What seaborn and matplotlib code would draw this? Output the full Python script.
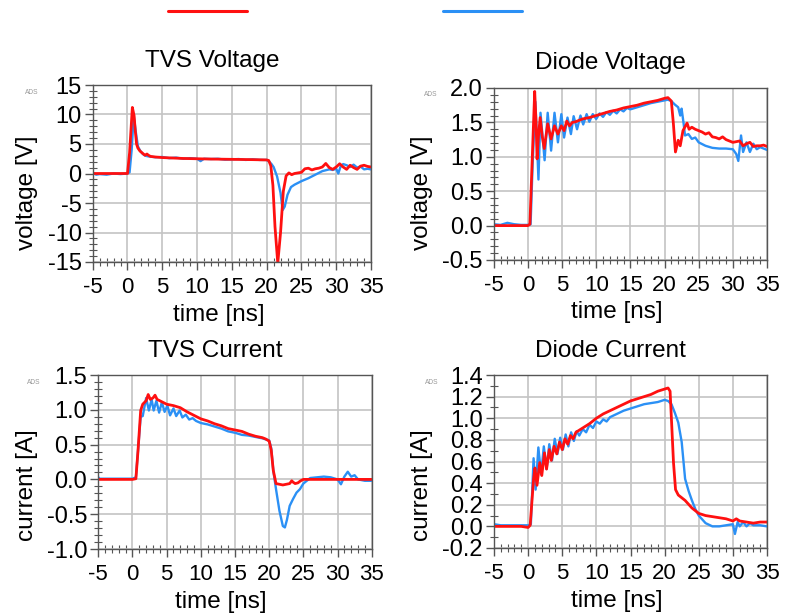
import matplotlib
matplotlib.use("Agg")
import matplotlib.pyplot as plt
from matplotlib.ticker import MultipleLocator, FormatStrFormatter
import pandas as pd
import seaborn as sns

### DATA (time [ns], value) ############################################################################################
# TVS voltage [V]
tvs_voltage_red = [
    (-5, 0), (-3, 0), (-1, 0), (0, 0), (0.3, 3.5), (0.7, 11.2), (0.95, 9.8), (1.1, 7.5), (1.3, 5.0), (1.5, 4.3),
    (1.8, 3.8), (2.2, 3.4), (2.5, 3.1), (2.8, 3.3), (3.0, 3.1), (3.3, 2.9), (4, 2.8), (5, 2.7), (8, 2.55),
    (10, 2.5), (12, 2.45), (15, 2.4), (18, 2.35), (20, 2.3), (20.3, 2.2), (20.6, 1.3), (20.9, -2.0), (21.2, -9.0),
    (21.6, -15.2), (22.0, -10.0), (22.4, -3.0), (22.8, -0.4), (23.2, 0.1), (23.6, -0.2), (24, 0), (24.5, 0.1),
    (25, 0.2), (25.5, 0.8), (26, 0.9), (26.5, 0.6), (27, 0.8), (27.5, 0.9), (28, 1.1), (28.5, 1.7), (29, 1.0),
    (29.5, 0.7), (30, 1.1), (30.5, 1.65), (31, 1.1), (31.5, 0.7), (32, 1.4), (32.5, 1.0), (33, 0.7), (33.5, 1.25),
    (34, 1.4), (34.5, 1.2), (35, 1.1),
]
tvs_voltage_blue = [
    (-5, 0.1), (-4.5, -0.2), (-4, -0.1), (-3, -0.2), (-2, 0), (-1, -0.1), (0, 0), (0.3, 0.2), (0.6, 4.0),
    (0.9, 9.8), (1.2, 7.0), (1.5, 4.6), (1.8, 3.9), (2.2, 3.3), (2.6, 3.0), (3, 2.9), (4, 2.75), (5, 2.8),
    (6, 2.6), (7, 2.7), (8, 2.5), (9, 2.6), (10, 2.5), (10.5, 2.1), (11, 2.5), (12, 2.45), (13, 2.5), (14, 2.35),
    (15, 2.4), (16, 2.45), (17, 2.3), (18, 2.4), (19, 2.3), (20, 2.3), (20.3, 2.1), (20.7, 1.6), (21, 1.1),
    (21.5, -0.5), (22, -3.3), (22.3, -6.2), (22.6, -5.6), (23, -3.6), (23.5, -2.3), (24, -1.9), (24.5, -1.6),
    (25, -1.3), (26, -0.8), (27, -0.2), (28, 0.4), (29, 0.7), (29.5, 0.6), (30, 0.8), (30.3, 0.0), (30.6, 1.1),
    (31, 1.6), (31.5, 1.4), (32, 1.1), (32.5, 1.5), (33, 1.0), (33.5, 1.2), (34, 0.7), (34.5, 0.8), (35, 0.7),
]

# Diode voltage [V]
diode_voltage_red = [
    (-5, 0), (-2, 0), (0, 0), (0.3, 0.02), (0.65, 1.0), (1.0, 1.95), (1.2, 1.5), (1.35, 0.97), (1.55, 1.3),
    (1.8, 1.57), (2.1, 1.3), (2.4, 1.12), (2.9, 1.48), (3.4, 1.26), (3.9, 1.45), (4.4, 1.33), (4.9, 1.45),
    (5.3, 1.38), (5.7, 1.52), (6.1, 1.45), (6.5, 1.5), (7, 1.51), (7.5, 1.53), (8, 1.55), (9, 1.57), (10, 1.6),
    (11, 1.63), (12, 1.66), (13, 1.68), (14, 1.71), (15, 1.73), (16, 1.75), (17, 1.78), (18, 1.8), (19, 1.82),
    (20, 1.85), (20.5, 1.86), (21, 1.81), (21.3, 1.48), (21.6, 1.07), (22, 1.24), (22.3, 1.16), (22.7, 1.38),
    (23.3, 1.49), (23.6, 1.40), (24, 1.43), (24.5, 1.40), (25, 1.38), (25.5, 1.36), (26, 1.33), (26.5, 1.35),
    (27, 1.29), (27.5, 1.28), (28, 1.26), (28.5, 1.29), (29, 1.25), (29.5, 1.23), (30, 1.21), (30.5, 1.22),
    (31, 1.23), (31.5, 1.16), (32, 1.19), (32.5, 1.21), (33, 1.15), (33.5, 1.16), (34, 1.16), (34.5, 1.17),
    (35, 1.15),
]
diode_voltage_blue = [
    (-5, 0.02), (-4, 0.01), (-3, 0.04), (-2, 0.02), (-1, 0.01), (0, 0.01), (0.4, 0.02), (0.7, 0.9), (1.1, 1.8),
    (1.55, 0.67), (1.85, 1.64), (2.45, 0.95), (2.9, 1.64), (3.4, 1.09), (3.9, 1.64), (4.4, 1.21), (4.9, 1.62),
    (5.3, 1.28), (5.8, 1.57), (6.3, 1.33), (6.7, 1.59), (7.2, 1.40), (7.7, 1.6), (8.1, 1.47), (8.6, 1.62),
    (9.0, 1.51), (9.5, 1.62), (10, 1.55), (10.5, 1.63), (11, 1.58), (11.5, 1.65), (12, 1.61), (12.5, 1.67),
    (13, 1.63), (13.5, 1.69), (14, 1.66), (14.5, 1.71), (15, 1.69), (16, 1.72), (17, 1.75), (18, 1.78),
    (19, 1.80), (20, 1.82), (20.5, 1.83), (21, 1.81), (21.5, 1.76), (22, 1.72), (22.3, 1.6), (22.5, 1.7),
    (22.8, 1.48), (23, 1.31), (23.5, 1.33), (24, 1.26), (24.5, 1.28), (25, 1.21), (26, 1.16), (27, 1.13),
    (28, 1.12), (29, 1.12), (30, 1.11), (30.5, 1.04), (30.8, 0.94), (31.2, 1.31), (31.5, 1.07), (32, 1.21),
    (32.5, 1.07), (33, 1.19), (33.5, 1.11), (34, 1.14), (35, 1.10),
]

# TVS current [A]
tvs_current_red = [
    (-5, 0), (0, 0), (0.5, 0.01), (0.8, 0.4), (1.2, 0.99), (1.5, 1.08), (2.0, 1.13), (2.3, 1.22), (2.6, 1.15),
    (3.0, 1.17), (3.3, 1.21), (3.6, 1.15), (4, 1.13), (5, 1.08), (6, 1.06), (7, 1.03), (8, 0.97), (9, 0.92),
    (10, 0.87), (11, 0.84), (12, 0.8), (13, 0.77), (14, 0.73), (15, 0.71), (16, 0.69), (17, 0.65), (18, 0.62),
    (19, 0.6), (19.5, 0.58), (20, 0.55), (20.3, 0.42), (20.6, 0.13), (21, -0.06), (22, -0.08), (23, -0.06),
    (23.3, -0.02), (23.5, -0.04), (23.8, -0.06), (24.2, -0.05), (24.6, -0.02), (25, 0), (30, 0), (35, 0),
]
tvs_current_blue = [
    (-5, 0.03), (-4.8, 0.01), (-3, 0.01), (-1, 0.01), (0, 0.01), (0.5, 0.03), (0.8, 0.4), (1.2, 0.9),
    (1.5, 0.91), (2.0, 1.17), (2.4, 0.99), (2.8, 1.15), (3.1, 0.99), (3.5, 1.13), (3.9, 0.96), (4.3, 1.11),
    (4.7, 0.97), (5.1, 1.06), (5.5, 0.92), (6.0, 1.02), (6.4, 0.91), (6.9, 0.99), (7.3, 0.89), (7.8, 0.93),
    (8.3, 0.86), (8.8, 0.88), (9.3, 0.84), (10, 0.81), (11, 0.79), (12, 0.76), (13, 0.73), (14, 0.69), (15, 0.67),
    (16, 0.64), (17, 0.63), (18, 0.61), (19, 0.59), (20, 0.56), (20.3, 0.45), (20.6, 0.13), (21, -0.14),
    (21.5, -0.45), (22, -0.67), (22.3, -0.69), (22.6, -0.58), (23, -0.38), (23.5, -0.28), (24, -0.19),
    (24.5, -0.14), (25, -0.06), (25.5, -0.02), (26, 0.02), (27, 0.03), (28, 0.04), (29, 0.03), (30, 0.0),
    (30.5, -0.07), (31, 0.04), (31.5, 0.11), (32, 0.04), (32.5, 0.06), (33, 0.0), (34, -0.02), (35, -0.02),
]

# Diode current [A]
diode_current_red = [
    (-5, 0), (-1, 0), (0, -0.01), (0.3, 0.01), (0.8, 0.44), (1.0, 0.54), (1.3, 0.38), (1.7, 0.59), (2.0, 0.47),
    (2.4, 0.68), (2.7, 0.53), (3.1, 0.71), (3.4, 0.61), (3.8, 0.74), (4.2, 0.67), (4.6, 0.78), (5.0, 0.71),
    (5.4, 0.81), (5.8, 0.76), (6.2, 0.84), (6.6, 0.81), (7, 0.87), (8, 0.91), (9, 0.95), (10, 1.0), (11, 1.04),
    (12, 1.07), (13, 1.1), (14, 1.13), (15, 1.16), (16, 1.18), (17, 1.2), (18, 1.22), (19, 1.25), (20, 1.27),
    (20.5, 1.28), (20.8, 1.25), (21, 0.99), (21.3, 0.59), (21.6, 0.34), (22, 0.29), (23, 0.24), (24, 0.17),
    (25, 0.12), (26, 0.10), (27, 0.09), (28, 0.08), (29, 0.07), (30, 0.05), (30.5, 0.07), (31, 0.05), (32, 0.04),
    (33, 0.03), (34, 0.04), (35, 0.04),
]
diode_current_blue = [
    (-5, 0.02), (-4, 0.01), (-3, 0.01), (-2, 0.01), (-1, 0.01), (0, 0.01), (0.4, 0.02), (0.8, 0.63), (1.1, 0.34),
    (1.5, 0.73), (1.9, 0.48), (2.3, 0.74), (2.7, 0.53), (3.1, 0.76), (3.5, 0.61), (3.9, 0.81), (4.3, 0.67),
    (4.7, 0.82), (5.1, 0.71), (5.5, 0.85), (5.9, 0.74), (6.3, 0.87), (6.7, 0.79), (7.1, 0.88), (7.5, 0.84),
    (8, 0.9), (8.5, 0.87), (9, 0.94), (9.5, 0.91), (10, 0.97), (10.5, 0.95), (11, 0.99), (11.5, 0.97), (12, 1.01),
    (13, 1.04), (14, 1.07), (15, 1.09), (16, 1.11), (17, 1.13), (18, 1.14), (19, 1.15), (20, 1.17), (20.5, 1.16),
    (21, 1.13), (21.5, 1.05), (22, 0.96), (22.5, 0.78), (23, 0.44), (23.5, 0.33), (24, 0.24), (24.5, 0.16),
    (25, 0.10), (26, 0.03), (27, 0.0), (28, 0.0), (29, 0.01), (30, 0.02), (30.3, -0.07), (30.7, 0.04), (31, 0.0),
    (31.5, 0.04), (32, 0.0), (32.5, 0.03), (33, 0.01), (34, 0.01), (35, 0.0),
]

x_ticks = [-5, 0, 5, 10, 15, 20, 25, 30, 35]

### STYLE ##############################################################################################################
RED = "#ff1010"
BLUE = "#2b90f5"
FS_TEXT = 17.5   # titles and axis labels
FS_YTICK = 17
FS_XTICK = 16

sns.set_theme(style="white")
plt.rcParams["font.family"] = ["Liberation Sans", "DejaVu Sans"]
plt.rcParams["axes.unicode_minus"] = False
plt.rcParams["text.color"] = "black"

W, H = 786, 613
fig = plt.figure(figsize=(W / 100, H / 100), dpi=100)

# (axes box in px: left, top, right, bottom), title xy, ylabel xy, xlabel xy, ADS xy
panels = [
    dict(red=tvs_voltage_red, blue=tvs_voltage_blue, title="TVS Voltage", ylabel="voltage [V]",
         box=(92.7, 85, 371, 262), title_xy=(212, 61), ylabel_xy=(27, 193), xlabel_xy=(219, 315), ads_xy=(32, 93),
         ylim=(-15, 15), major=5, minor=1, fmt="%d"),
    dict(red=diode_voltage_red, blue=diode_voltage_blue, title="Diode Voltage", ylabel="voltage [V]",
         box=(493.7, 88, 767, 260), title_xy=(610, 63), ylabel_xy=(422, 193), xlabel_xy=(617, 312),
         ads_xy=(431, 94), ylim=(-0.5, 2.0), major=0.5, minor=0.1, fmt="%.1f"),
    dict(red=tvs_current_red, blue=tvs_current_blue, title="TVS Current", ylabel="current [A]",
         box=(98.3, 375, 371.7, 549), title_xy=(215, 351), ylabel_xy=(27, 485), xlabel_xy=(221, 602),
         ads_xy=(34, 382), ylim=(-1.0, 1.5), major=0.5, minor=0.1, fmt="%.1f"),
    dict(red=diode_current_red, blue=diode_current_blue, title="Diode Current", ylabel="current [A]",
         box=(494, 375, 767, 548), title_xy=(610, 351), ylabel_xy=(422, 485), xlabel_xy=(617, 601),
         ads_xy=(432, 382), ylim=(-0.2, 1.4), major=0.2, minor=0.1, fmt="%.1f"),
]

### PLOTS ##############################################################################################################
for p in panels:
    l, t, r, b = p["box"]
    ax = fig.add_axes([l / W, 1 - b / H, (r - l) / W, (b - t) / H])

    df_blue = pd.DataFrame(p["blue"], columns=["time", "value"])
    df_red = pd.DataFrame(p["red"], columns=["time", "value"])
    sns.lineplot(data=df_blue, x="time", y="value", color=BLUE, lw=1.7, estimator=None, sort=False, ax=ax)
    sns.lineplot(data=df_red, x="time", y="value", color=RED, lw=2.0, estimator=None, sort=False, ax=ax)

    ax.set_xlim(-5, 35)
    ax.set_ylim(*p["ylim"])
    ax.set_xticks(x_ticks)
    ax.xaxis.set_minor_locator(MultipleLocator(1))
    ax.yaxis.set_major_locator(MultipleLocator(p["major"]))
    ax.yaxis.set_minor_locator(MultipleLocator(p["minor"]))
    ax.yaxis.set_major_formatter(FormatStrFormatter(p["fmt"]))
    ax.set_xlabel("")
    ax.set_ylabel("")

    ax.grid(True, which="major", color="#c4c4c4", lw=1.2)
    ax.tick_params(which="both", left=True, bottom=True, colors="#555555", labelcolor="black")
    ax.tick_params(which="major", direction="out", length=6, width=1.0)
    ax.tick_params(axis="y", which="major", labelsize=FS_YTICK, pad=2)
    ax.tick_params(axis="x", which="major", labelsize=FS_XTICK, pad=5)
    ax.tick_params(which="minor", direction="inout", length=6, width=0.8)
    for s in ax.spines.values():
        s.set_color("#555555")
        s.set_linewidth(1.0)

    fig.text(p["title_xy"][0] / W, 1 - p["title_xy"][1] / H, p["title"], fontsize=FS_TEXT,
             color="black", ha="center", va="center")
    fig.text(p["ylabel_xy"][0] / W, 1 - p["ylabel_xy"][1] / H, p["ylabel"], fontsize=FS_TEXT, rotation=90,
             color="black", ha="center", va="center")
    fig.text(p["xlabel_xy"][0] / W, 1 - p["xlabel_xy"][1] / H, "time [ns]", fontsize=FS_TEXT,
             color="black", ha="center", va="center")
    fig.text(p["ads_xy"][0] / W, 1 - p["ads_xy"][1] / H, "ADS", fontsize=4.8, color="#999999",
             ha="center", va="center")

# Legend at the top: two colored lines, no text
handles = [plt.Line2D([], [], color=RED, lw=2.2), plt.Line2D([], [], color=BLUE, lw=2.2)]
fig.legend(handles, ["", ""], ncol=2, loc="center", bbox_to_anchor=(345 / W, 1 - 13 / H), frameon=False,
           fontsize=15, handlelength=3.8, handletextpad=0, columnspacing=9.4, borderpad=0)

fig.savefig("out.png", dpi=100)
